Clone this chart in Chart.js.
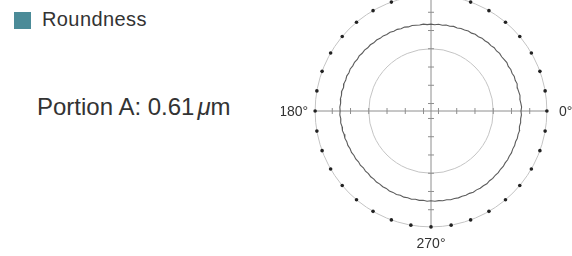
<!DOCTYPE html>
<html>
<head>
<meta charset="utf-8">
<script src="https://cdn.jsdelivr.net/npm/chart.js@4/dist/chart.umd.min.js"></script>
<style>
    html, body { margin: 0; padding: 0; background: #fff; }
    body { width: 572px; height: 256px; position: relative; overflow: hidden; font-family: "Liberation Sans", Arial, sans-serif; color: #333; }
    .legend { position: absolute; left: 14px; top: 9px; font-size: 20px; line-height: 20px; letter-spacing: 0.4px; white-space: nowrap; }
    .legend i { display: inline-block; width: 17px; height: 17px; background: #4b8b98; position: absolute; left: 0; top: 3px; }
    .legend span { margin-left: 28px; }
    .portion { position: absolute; left: 37px; top: 93px; font-size: 24px; line-height: 28px; color: #333; white-space: nowrap; }
    .portion em { font-style: italic; margin-left: 3px; }
    #wrap { position: absolute; left: 281px; top: -39px; width: 300px; height: 300px; }
</style>
</head>
<body>
<div class="legend"><i></i><span>Roundness</span></div>
<div class="portion">Portion A: 0.61<em>μ</em>m</div>
<div id="wrap"><canvas id="polar" width="300" height="300"></canvas></div>
<script>
// Polar roundness plot (values in chart divisions, angle in degrees)
const axisMax = 8;
const outerRadius = 6.35;
const refRadius = 3.41;
const axisTicks = [0.41, 1.41, 2.41, 3.41, 4.41, 5.41];

const angleLabels = ['0°', '90°', '180°', '270°'];
const labelAngles = [0, 90, 180, 270];

const dotAngles = [0, 10, 20, 30, 40, 50, 60, 70, 80, 90, 100, 110, 120, 130, 140, 150, 160, 170,
    180, 190, 200, 210, 220, 230, 240, 250, 260, 270, 280, 290, 300, 310, 320, 330, 340, 350];

const traceAngles = [
    0, 2.5, 5, 7.5, 10, 12.5, 15, 17.5, 20, 22.5, 25, 27.5, 30, 32.5, 35, 37.5, 40, 42.5,
    45, 47.5, 50, 52.5, 55, 57.5, 60, 62.5, 65, 67.5, 70, 72.5, 75, 77.5, 80, 82.5, 85, 87.5,
    90, 92.5, 95, 97.5, 100, 102.5, 105, 107.5, 110, 112.5, 115, 117.5, 120, 122.5, 125, 127.5, 130, 132.5,
    135, 137.5, 140, 142.5, 145, 147.5, 150, 152.5, 155, 157.5, 160, 162.5, 165, 167.5, 170, 172.5, 175, 177.5,
    180, 182.5, 185, 187.5, 190, 192.5, 195, 197.5, 200, 202.5, 205, 207.5, 210, 212.5, 215, 217.5, 220, 222.5,
    225, 227.5, 230, 232.5, 235, 237.5, 240, 242.5, 245, 247.5, 250, 252.5, 255, 257.5, 260, 262.5, 265, 267.5,
    270, 272.5, 275, 277.5, 280, 282.5, 285, 287.5, 290, 292.5, 295, 297.5, 300, 302.5, 305, 307.5, 310, 312.5,
    315, 317.5, 320, 322.5, 325, 327.5, 330, 332.5, 335, 337.5, 340, 342.5, 345, 347.5, 350, 352.5, 355, 357.5, 360];
const traceRadii = [
    4.93, 4.97, 4.94, 4.91, 4.95, 4.92, 4.90, 4.95, 4.91, 4.94, 4.90, 4.93, 4.89, 4.93, 4.90, 4.88, 4.91, 4.87,
    4.90, 4.86, 4.88, 4.85, 4.87, 4.83, 4.85, 4.81, 4.84, 4.80, 4.81, 4.77, 4.80, 4.76, 4.78, 4.74, 4.77, 4.73,
    4.76, 4.74, 4.78, 4.75, 4.77, 4.80, 4.77, 4.82, 4.80, 4.84, 4.82, 4.86, 4.84, 4.88, 4.86, 4.90, 4.88, 4.92,
    4.90, 4.94, 4.92, 4.96, 4.93, 4.97, 4.95, 4.99, 4.96, 5.00, 4.97, 5.00, 4.96, 5.01, 4.98, 5.01, 4.97, 5.00,
    4.98, 5.00, 4.96, 4.99, 4.95, 4.97, 4.93, 4.95, 4.91, 4.93, 4.89, 4.91, 4.87, 4.89, 4.85, 4.88, 4.84, 4.87,
    4.85, 4.89, 4.87, 4.91, 4.89, 4.92, 4.90, 4.94, 4.92, 4.95, 4.91, 4.95, 4.92, 4.95, 4.91, 4.94, 4.91, 4.95,
    4.92, 4.95, 4.93, 4.96, 4.94, 4.98, 4.96, 4.99, 4.97, 5.00, 4.98, 5.02, 4.99, 5.02, 5.00, 5.03, 4.99, 5.01,
    4.98, 5.00, 4.97, 4.99, 4.96, 4.98, 4.95, 4.97, 4.94, 4.96, 4.93, 4.96, 4.94, 4.97, 4.92, 4.95, 4.93, 4.96, 4.93];

function toXY(angle, r) {
    const a = angle * Math.PI / 180;
    return { x: r * Math.cos(a), y: r * Math.sin(a) };
}

const tracePoints = traceAngles.map((a, i) => toXY(a, traceRadii[i]));
const dotPoints = dotAngles.map(a => toXY(a, outerRadius));

// grid circles, axes, tick marks and angle labels
const polarGrid = {
    id: 'polarGrid',
    beforeDatasetsDraw(chart) {
        const { ctx, scales: { x, y } } = chart;
        const cx = x.getPixelForValue(0);
        const cy = y.getPixelForValue(0);
        const rpx = v => x.getPixelForValue(v) - cx;

        ctx.save();
        ctx.strokeStyle = '#c4c4c4';
        ctx.lineWidth = 1;
        [refRadius, outerRadius].forEach(r => {
            ctx.beginPath();
            ctx.arc(cx, cy, rpx(r), 0, Math.PI * 2);
            ctx.stroke();
        });

        ctx.strokeStyle = '#8e8e8e';
        ctx.beginPath();
        ctx.moveTo(x.getPixelForValue(-outerRadius), cy);
        ctx.lineTo(x.getPixelForValue(outerRadius), cy);
        ctx.moveTo(cx, y.getPixelForValue(-outerRadius));
        ctx.lineTo(cx, y.getPixelForValue(outerRadius));
        ctx.stroke();

        ctx.beginPath();
        axisTicks.forEach(t => {
            [t, -t].forEach(v => {
                const px = x.getPixelForValue(v);
                const py = y.getPixelForValue(v);
                ctx.moveTo(px, cy - 3);
                ctx.lineTo(px, cy + 3);
                ctx.moveTo(cx - 3, py);
                ctx.lineTo(cx + 3, py);
            });
        });
        ctx.stroke();

        ctx.fillStyle = '#333';
        ctx.font = '14px "Liberation Sans", Arial, sans-serif';
        angleLabels.forEach((txt, i) => {
            const p = toXY(labelAngles[i], outerRadius);
            const px = x.getPixelForValue(p.x);
            const py = y.getPixelForValue(p.y);
            if (labelAngles[i] === 0) {
                ctx.textAlign = 'left'; ctx.textBaseline = 'middle';
                ctx.fillText(txt, px + 12, py + 1);
            } else if (labelAngles[i] === 180) {
                ctx.textAlign = 'right'; ctx.textBaseline = 'middle';
                ctx.fillText(txt, px - 7, py + 1);
            } else if (labelAngles[i] === 270) {
                ctx.textAlign = 'center'; ctx.textBaseline = 'top';
                ctx.fillText(txt, px, py + 10);
            } else {
                ctx.textAlign = 'center'; ctx.textBaseline = 'bottom';
                ctx.fillText(txt, px, py - 9);
            }
        });
        ctx.restore();
    }
};

new Chart(document.getElementById('polar'), {
    type: 'scatter',
    data: {
        datasets: [{
            label: 'Roundness',
            data: tracePoints,
            showLine: true,
            borderColor: '#5c5c5c',
            borderWidth: 1.1,
            pointRadius: 0,
            tension: 0
        }, {
            label: 'Angle marks',
            data: dotPoints,
            showLine: false,
            backgroundColor: '#222',
            borderWidth: 0,
            pointRadius: 1.8
        }]
    },
    options: {
        responsive: false,
        animation: false,
        layout: { padding: 0 },
        scales: {
            x: { type: 'linear', min: -axisMax, max: axisMax, display: false },
            y: { type: 'linear', min: -axisMax, max: axisMax, display: false }
        },
        plugins: {
            legend: { display: false },
            tooltip: { enabled: false }
        }
    },
    plugins: [polarGrid]
});
</script>
</body>
</html>
